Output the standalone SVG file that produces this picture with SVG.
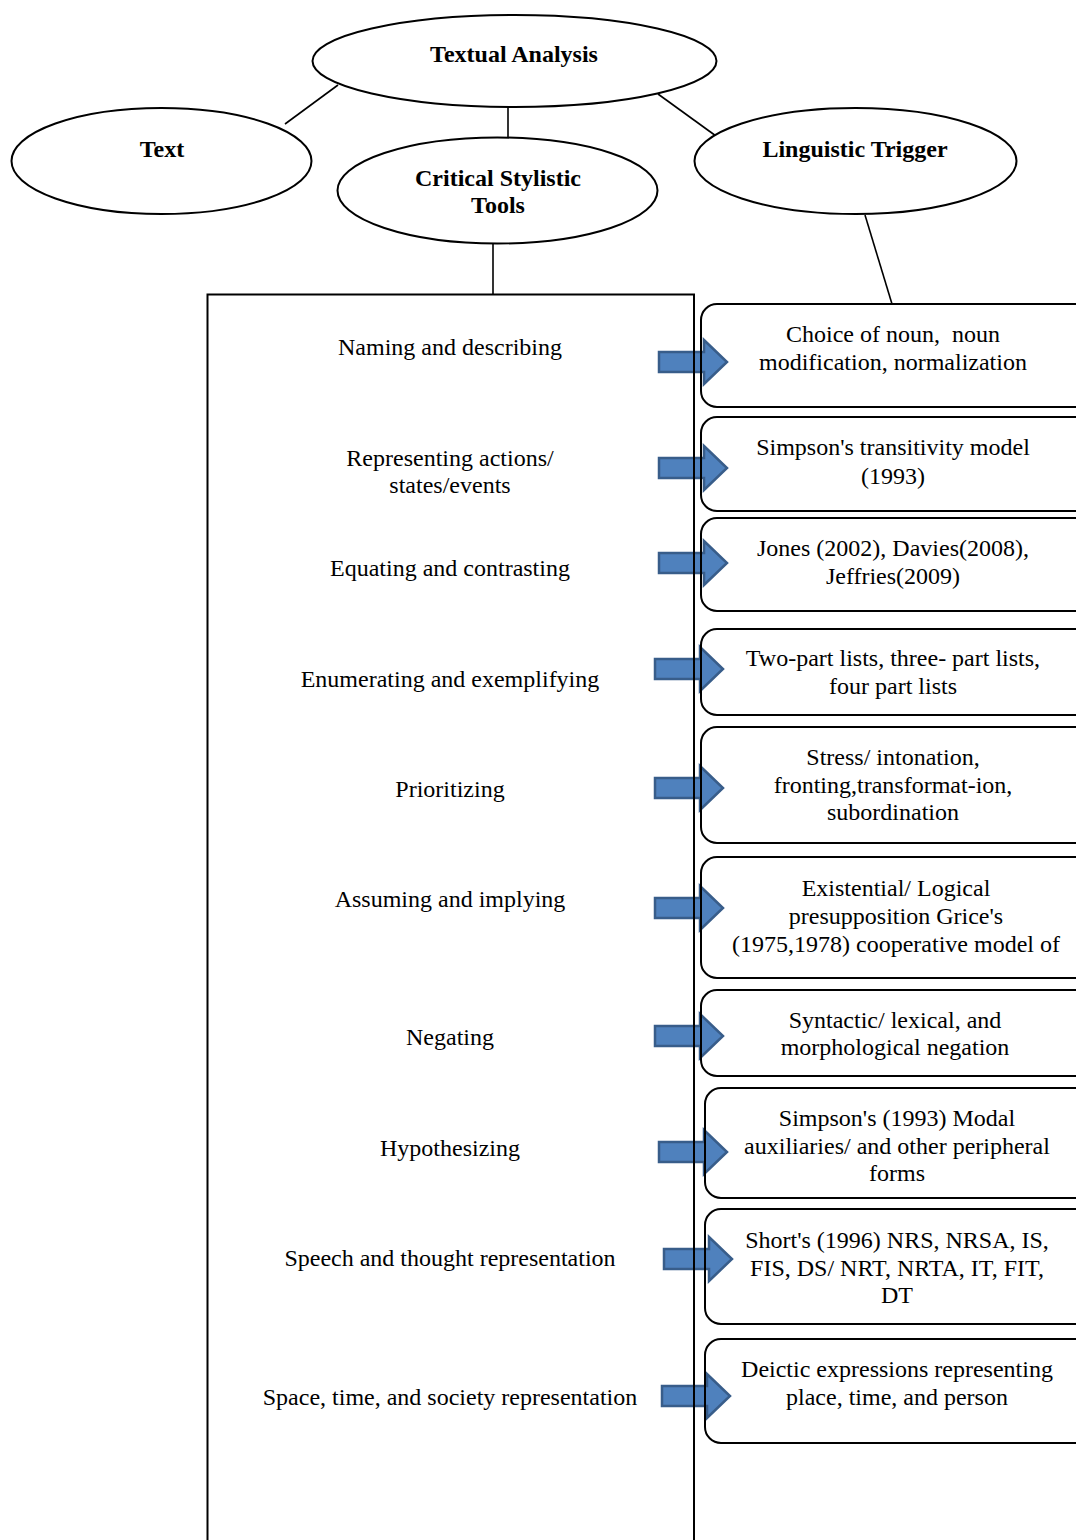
<svg xmlns="http://www.w3.org/2000/svg" width="1076" height="1540" viewBox="0 0 1076 1540">
<defs>
<style>
.ell{fill:#fff;stroke:#000;stroke-width:2}
.ttl{font-family:"Liberation Serif","Times New Roman",serif;font-weight:bold;font-size:24px;text-anchor:middle}
.lbl{font-family:"Liberation Serif","Times New Roman",serif;font-size:24px;text-anchor:middle;white-space:pre}
.box{fill:none;stroke:#000;stroke-width:2}
.con{stroke:#000;stroke-width:1.6;fill:none}
.arr{fill:#4F81BD;stroke:#385D8A;stroke-width:2.5}
</style>
<path id="ar" d="M0,-10 H45 V-22 L68,0 L45,22 V10 H0 Z"/>
</defs>
<rect width="1076" height="1540" fill="#fff"/>
<g id="connectors">
<line class="con" x1="338" y1="85" x2="285" y2="124"/>
<line class="con" x1="508" y1="107" x2="508" y2="137"/>
<line class="con" x1="658" y1="94" x2="716" y2="136"/>
<line class="con" x1="865" y1="215" x2="892" y2="304"/>
<line class="con" x1="493" y1="244" x2="493" y2="294"/>
</g>
<g id="textual-analysis"><ellipse class="ell" cx="514.5" cy="61" rx="202" ry="46"/><text class="ttl" x="514" y="62">Textual Analysis</text></g>
<g id="text"><ellipse class="ell" cx="161.5" cy="161" rx="150" ry="53"/><text class="ttl" x="162" y="157">Text</text></g>
<g id="critical-stylistic-tools"><ellipse class="ell" cx="497.5" cy="190.5" rx="160" ry="53"/><text class="ttl" x="498" y="186">Critical Stylistic</text><text class="ttl" x="498" y="213">Tools</text></g>
<g id="linguistic-trigger"><ellipse class="ell" cx="855.5" cy="161" rx="161" ry="53"/><text class="ttl" x="855" y="157">Linguistic Trigger</text></g>
<g id="arrows">
<use href="#ar" class="arr" x="659" y="362"/>
<use href="#ar" class="arr" x="659" y="468"/>
<use href="#ar" class="arr" x="659" y="563"/>
<use href="#ar" class="arr" x="655" y="669"/>
<use href="#ar" class="arr" x="655" y="788"/>
<use href="#ar" class="arr" x="655" y="908"/>
<use href="#ar" class="arr" x="655" y="1036"/>
<use href="#ar" class="arr" x="659" y="1152"/>
<use href="#ar" class="arr" x="664" y="1259"/>
<use href="#ar" class="arr" x="662" y="1396"/>
</g>
<g id="tools-box">
<path class="box" d="M207.5,1541 V294.5 H694 V1541"/>
<text class="lbl" x="450" y="355">Naming and describing</text>
<text class="lbl" x="450" y="466">Representing actions/</text>
<text class="lbl" x="450" y="493">states/events</text>
<text class="lbl" x="450" y="576">Equating and contrasting</text>
<text class="lbl" x="450" y="687">Enumerating and exemplifying</text>
<text class="lbl" x="450" y="797">Prioritizing</text>
<text class="lbl" x="450" y="907">Assuming and implying</text>
<text class="lbl" x="450" y="1045">Negating</text>
<text class="lbl" x="450" y="1156">Hypothesizing</text>
<text class="lbl" x="450" y="1266">Speech and thought representation</text>
<text class="lbl" x="450" y="1405">Space, time, and society representation</text>
</g>
<g id="trigger-1"><rect class="box" x="701" y="304" width="400" height="103" rx="16"/><text class="lbl" x="893" y="342">Choice of noun,  noun</text><text class="lbl" x="893" y="370">modification, normalization</text></g>
<g id="trigger-2"><rect class="box" x="701" y="417" width="400" height="94" rx="16"/><text class="lbl" x="893" y="455">Simpson's transitivity model</text><text class="lbl" x="893" y="484">(1993)</text></g>
<g id="trigger-3"><rect class="box" x="701" y="518" width="400" height="93" rx="16"/><text class="lbl" x="893" y="556">Jones (2002), Davies(2008),</text><text class="lbl" x="893" y="584">Jeffries(2009)</text></g>
<g id="trigger-4"><rect class="box" x="701" y="629" width="400" height="86" rx="16"/><text class="lbl" x="893" y="666">Two-part lists, three- part lists,</text><text class="lbl" x="893" y="694">four part lists</text></g>
<g id="trigger-5"><rect class="box" x="701" y="727" width="400" height="116" rx="16"/><text class="lbl" x="893" y="765">Stress/ intonation,</text><text class="lbl" x="893" y="793">fronting,transformat-ion,</text><text class="lbl" x="893" y="820">subordination</text></g>
<g id="trigger-6"><rect class="box" x="701" y="857" width="400" height="121" rx="16"/><text class="lbl" x="896" y="896">Existential/ Logical</text><text class="lbl" x="896" y="924">presupposition Grice's</text><text class="lbl" x="896" y="952">(1975,1978) cooperative model of</text></g>
<g id="trigger-7"><rect class="box" x="701" y="990" width="400" height="86" rx="16"/><text class="lbl" x="895" y="1028">Syntactic/ lexical, and</text><text class="lbl" x="895" y="1055">morphological negation</text></g>
<g id="trigger-8"><rect class="box" x="705" y="1088" width="400" height="110" rx="16"/><text class="lbl" x="897" y="1126">Simpson's (1993) Modal</text><text class="lbl" x="897" y="1154">auxiliaries/ and other peripheral</text><text class="lbl" x="897" y="1181">forms</text></g>
<g id="trigger-9"><rect class="box" x="705" y="1209" width="400" height="115" rx="16"/><text class="lbl" x="897" y="1248">Short's (1996) NRS, NRSA, IS,</text><text class="lbl" x="897" y="1276">FIS, DS/ NRT, NRTA, IT, FIT,</text><text class="lbl" x="897" y="1303">DT</text></g>
<g id="trigger-10"><rect class="box" x="705" y="1339" width="400" height="104" rx="16"/><text class="lbl" x="897" y="1377">Deictic expressions representing</text><text class="lbl" x="897" y="1405">place, time, and person</text></g>
</svg>
